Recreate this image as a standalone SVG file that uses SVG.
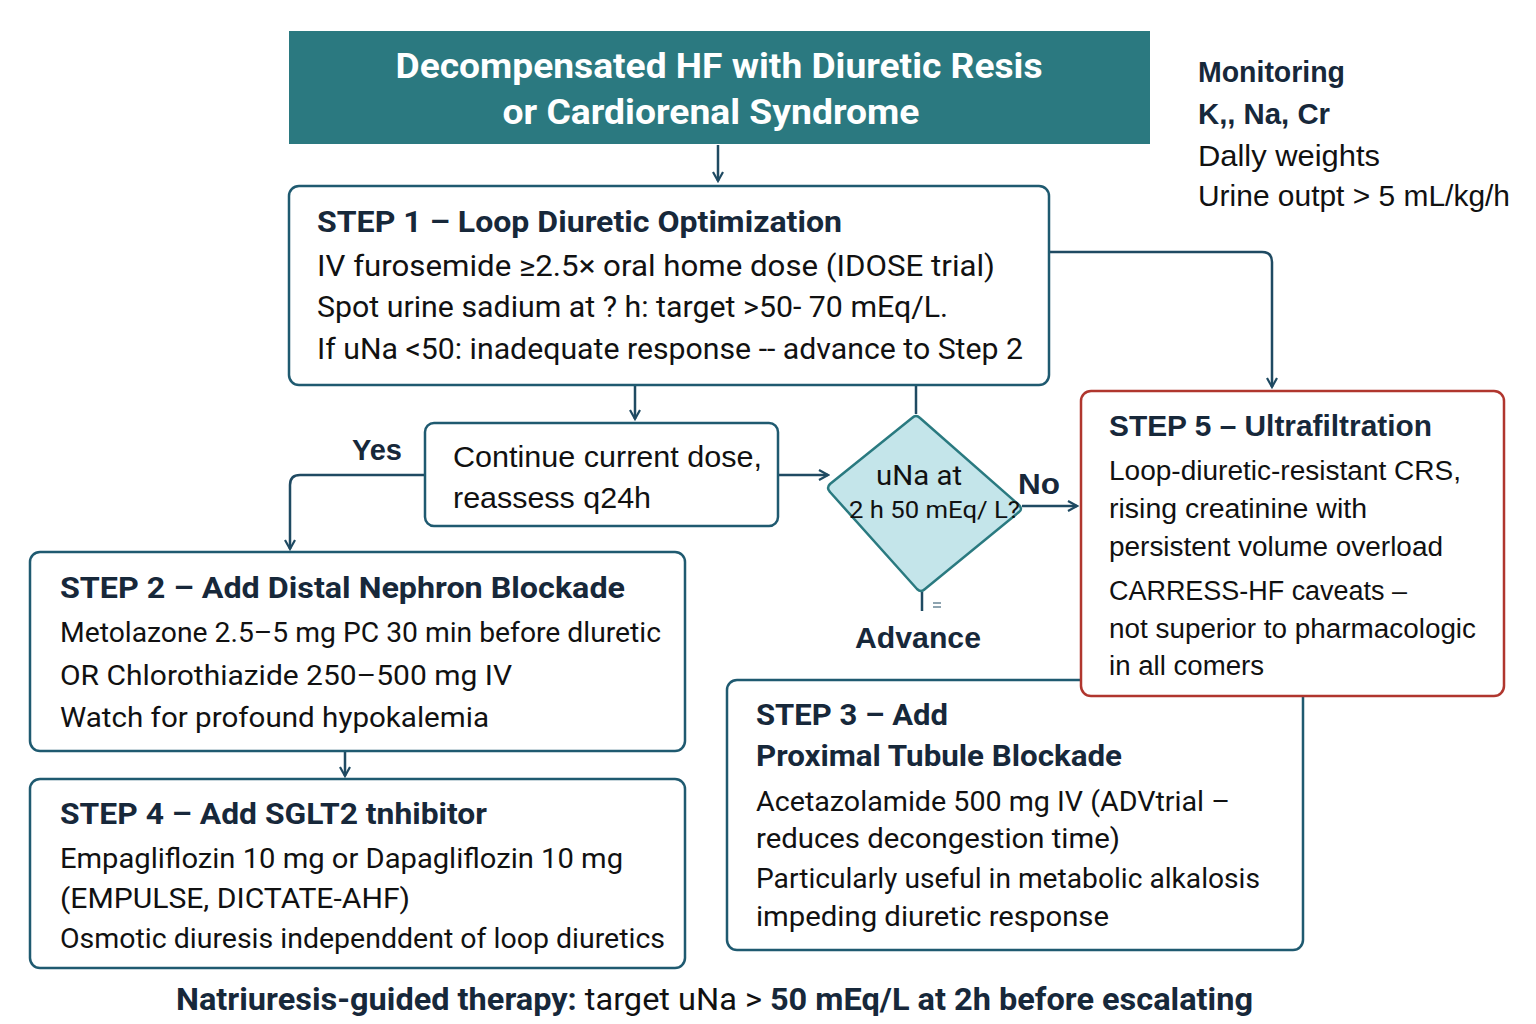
<svg xmlns="http://www.w3.org/2000/svg" width="1536" height="1024" viewBox="0 0 1536 1024">
<defs>
<style>
.box{fill:#fff;stroke:#1f5a70;stroke-width:2.5}
.red{fill:#fff;stroke:#b0362e;stroke-width:2.5}
.t{font-family:Roboto,"Liberation Sans",sans-serif;fill:#111}
.h{font-family:Roboto,"Liberation Sans",sans-serif;font-weight:700;fill:#17283a}
.a{font-family:"Liberation Sans",Arial,sans-serif;fill:#111}
.ah{font-family:"Liberation Sans",Arial,sans-serif;font-weight:700;fill:#17283a}
.c{fill:none;stroke:#1f4a62;stroke-width:2.5}
</style>
<marker id="arr" viewBox="0 0 12 12" refX="10" refY="6" markerWidth="12" markerHeight="12" markerUnits="userSpaceOnUse" orient="auto">
<path d="M1,1 L10,6 L1,11" fill="none" stroke="#1f4a62" stroke-width="2.2"/>
</marker>
</defs>
<rect width="1536" height="1024" fill="#fff"/>

<g id="connectors">
<path class="c" d="M718,145 V181" marker-end="url(#arr)"/>
<path class="c" d="M1050,252 H1262 Q1272,252 1272,262 V387" marker-end="url(#arr)"/>
<path class="c" d="M635,386 V419" marker-end="url(#arr)"/>
<path class="c" d="M916,386 V414"/>
<path class="c" d="M425,475 H300 Q290,475 290,485 V549" marker-end="url(#arr)"/>
<path class="c" d="M778,475 H828" marker-end="url(#arr)"/>
<path class="c" d="M1022,506 H1077" marker-end="url(#arr)"/>
<path class="c" d="M922,592 V611"/>
<path d="M933,603 H941 M933,607 H941" stroke="#1f4a62" stroke-width="1.2"/>
<path class="c" d="M345,752 V776" marker-end="url(#arr)"/>
</g>

<g id="title">
<rect x="289" y="31" width="861" height="113" fill="#2b7980"/>
<text x="719" y="78" text-anchor="middle" font-family="Roboto,'Liberation Sans',sans-serif" font-weight="700" font-size="35" fill="#fff" textLength="647" lengthAdjust="spacingAndGlyphs">Decompensated HF with Diuretic Resis</text>
<text x="711" y="124" text-anchor="middle" font-family="Roboto,'Liberation Sans',sans-serif" font-weight="700" font-size="35" fill="#fff" textLength="417" lengthAdjust="spacingAndGlyphs">or Cardiorenal Syndrome</text>
</g>

<g id="monitoring">
<text class="ah" x="1198" y="82" font-size="29" font-weight="600" textLength="147" lengthAdjust="spacingAndGlyphs">Monitoring</text>
<text class="ah" x="1198" y="124" font-size="29" textLength="132" lengthAdjust="spacingAndGlyphs">K,, Na, Cr</text>
<text class="a" x="1198" y="166" font-size="29" textLength="182" lengthAdjust="spacingAndGlyphs">Dally weights</text>
<text class="a" x="1198" y="206" font-size="29" textLength="312" lengthAdjust="spacingAndGlyphs">Urine outpt &gt; 5 mL/kg/h</text>
</g>

<g id="step1">
<rect class="box" x="289" y="186" width="760" height="199" rx="10"/>
<text class="h" x="317" y="232" font-size="30" textLength="525" lengthAdjust="spacingAndGlyphs">STEP 1 – Loop Diuretic Optimization</text>
<text class="t" x="317" y="276" font-size="29" textLength="678" lengthAdjust="spacingAndGlyphs">IV furosemide ≥2.5× oral home dose (IDOSE trial)</text>
<text class="t" x="317" y="317" font-size="29" textLength="631" lengthAdjust="spacingAndGlyphs">Spot urine sadium at ? h: target &gt;50- 70 mEq/L.</text>
<text class="t" x="317" y="359" font-size="29" textLength="706" lengthAdjust="spacingAndGlyphs">If uNa &lt;50: inadequate response -- advance to Step 2</text>
</g>

<g id="continue">
<rect class="box" x="425" y="423" width="353" height="103" rx="9"/>
<text class="a" x="453" y="467" font-size="29" textLength="309" lengthAdjust="spacingAndGlyphs">Continue current dose,</text>
<text class="a" x="453" y="508" font-size="29" textLength="198" lengthAdjust="spacingAndGlyphs">reassess q24h</text>
</g>

<g id="labels">
<text class="ah" x="352" y="460" font-size="29" textLength="50" lengthAdjust="spacingAndGlyphs">Yes</text>
<text class="ah" x="1018" y="494" font-size="29" textLength="42" lengthAdjust="spacingAndGlyphs">No</text>
<text class="ah" x="855" y="648" font-size="29" textLength="126" lengthAdjust="spacingAndGlyphs">Advance</text>
</g>

<g id="decision">
<path d="M912,418 Q916,414 920,418 L1019,505 Q1023,509 1019,512 L925,589 Q921,593 917,589 L830,492 Q826,488 830,484 Z" fill="#c4e5ea" stroke="#2a7a80" stroke-width="2.5" stroke-linejoin="round"/>
<text class="t" x="876" y="485" font-size="27" textLength="86" lengthAdjust="spacingAndGlyphs">uNa at</text>
<text class="t" x="849" y="518" font-size="24" textLength="171" lengthAdjust="spacingAndGlyphs">2 h 50 mEq/ L?</text>
</g>

<g id="step2">
<rect class="box" x="30" y="552" width="655" height="199" rx="10"/>
<text class="h" x="60" y="598" font-size="30" textLength="565" lengthAdjust="spacingAndGlyphs">STEP 2 – Add Distal Nephron Blockade</text>
<text class="t" x="60" y="642" font-size="28" textLength="601" lengthAdjust="spacingAndGlyphs">Metolazone 2.5–5 mg PC 30 min before dluretic</text>
<text class="t" x="60" y="685" font-size="28" textLength="452" lengthAdjust="spacingAndGlyphs">OR Chlorothiazide 250–500 mg IV</text>
<text class="t" x="60" y="727" font-size="28" textLength="429" lengthAdjust="spacingAndGlyphs">Watch for profound hypokalemia</text>
</g>

<g id="step4">
<rect class="box" x="30" y="779" width="655" height="189" rx="10"/>
<text class="h" x="60" y="824" font-size="30" textLength="427" lengthAdjust="spacingAndGlyphs">STEP 4 – Add SGLT2 tnhibitor</text>
<text class="t" x="60" y="868" font-size="28" textLength="563" lengthAdjust="spacingAndGlyphs">Empagliflozin 10 mg or Dapagliflozin 10 mg</text>
<text class="t" x="60" y="908" font-size="28" textLength="350" lengthAdjust="spacingAndGlyphs">(EMPULSE, DICTATE-AHF)</text>
<text class="t" x="60" y="948" font-size="28" textLength="605" lengthAdjust="spacingAndGlyphs">Osmotic diuresis independdent of loop diuretics</text>
</g>

<g id="step3">
<rect class="box" x="727" y="680" width="576" height="270" rx="10"/>
<text class="h" x="756" y="725" font-size="30" textLength="192" lengthAdjust="spacingAndGlyphs">STEP 3 – Add</text>
<text class="h" x="756" y="766" font-size="30" textLength="366" lengthAdjust="spacingAndGlyphs">Proximal Tubule Blockade</text>
<text class="t" x="756" y="811" font-size="28" textLength="474" lengthAdjust="spacingAndGlyphs">Acetazolamide 500 mg IV (ADVtrial –</text>
<text class="t" x="756" y="848" font-size="28" textLength="364" lengthAdjust="spacingAndGlyphs">reduces decongestion time)</text>
<text class="t" x="756" y="888" font-size="28" textLength="504" lengthAdjust="spacingAndGlyphs">Particularly useful in metabolic alkalosis</text>
<text class="t" x="756" y="926" font-size="28" textLength="353" lengthAdjust="spacingAndGlyphs">impeding diuretic response</text>
</g>

<g id="step5">
<rect class="red" x="1081" y="391" width="423" height="305" rx="10"/>
<text class="ah" x="1109" y="436" font-size="29" textLength="323" lengthAdjust="spacingAndGlyphs">STEP 5 – Ultrafiltration</text>
<text class="a" x="1109" y="480" font-size="27" textLength="352" lengthAdjust="spacingAndGlyphs">Loop-diuretic-resistant CRS,</text>
<text class="a" x="1109" y="518" font-size="27" textLength="258" lengthAdjust="spacingAndGlyphs">rising creatinine with</text>
<text class="a" x="1109" y="556" font-size="27" textLength="334" lengthAdjust="spacingAndGlyphs">persistent volume overload</text>
<text class="a" x="1109" y="600" font-size="27" textLength="298" lengthAdjust="spacingAndGlyphs">CARRESS-HF caveats –</text>
<text class="a" x="1109" y="638" font-size="27" textLength="367" lengthAdjust="spacingAndGlyphs">not superior to pharmacologic</text>
<text class="a" x="1109" y="675" font-size="27" textLength="155" lengthAdjust="spacingAndGlyphs">in all comers</text>
</g>

<g id="footer">
<text x="176" y="1010" font-family="Roboto,'Liberation Sans',sans-serif" font-size="31" fill="#111" textLength="1077" lengthAdjust="spacingAndGlyphs"><tspan font-weight="700" fill="#17283a">Natriuresis-guided therapy:</tspan> target uNa &gt; <tspan font-weight="700" fill="#17283a">50 mEq/L at 2h before escalating</tspan></text>
</g>
</svg>
